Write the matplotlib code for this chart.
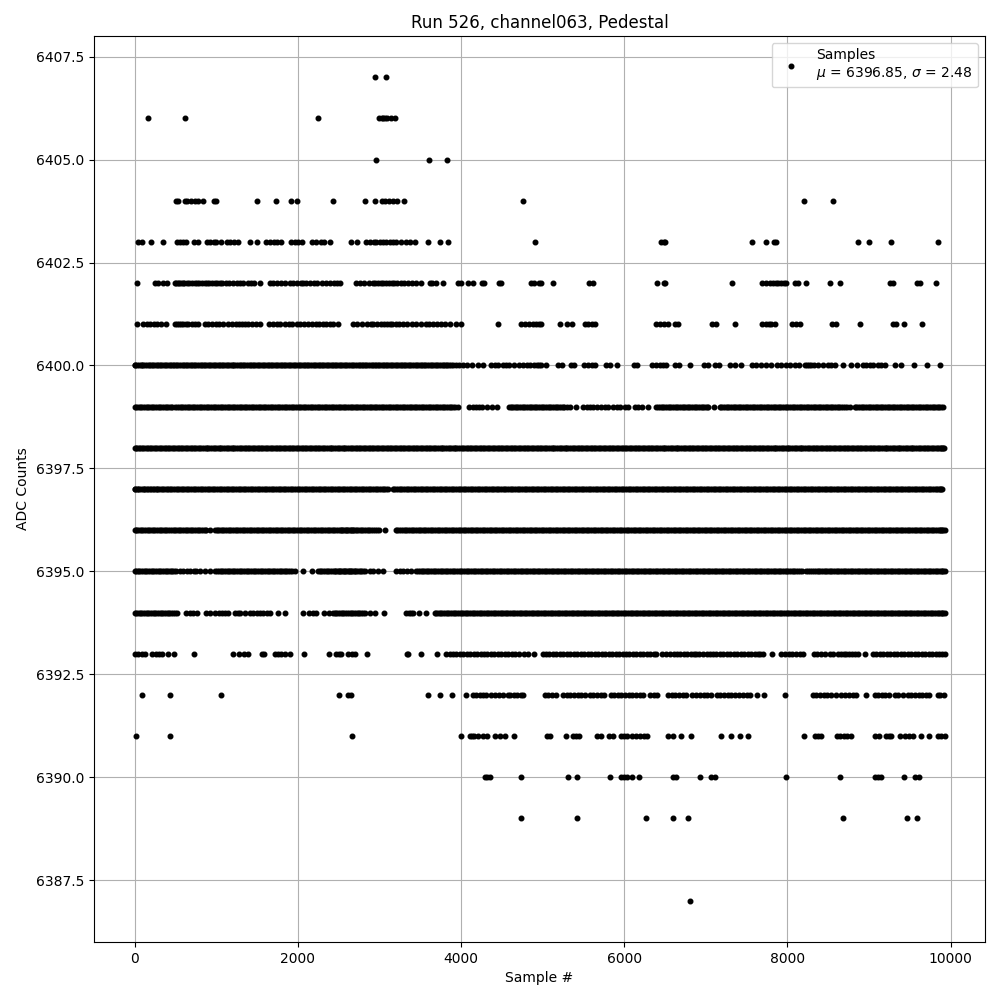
import matplotlib
matplotlib.use("Agg")
import matplotlib.pyplot as plt
from matplotlib.ticker import ScalarFormatter

title = "Run 526, channel063, Pedestal"
x_label = "Sample #"
y_label = "ADC Counts"
legend_label = "Samples\n$\\mu$ = 6396.85, $\\sigma$ = 2.48"

s6407 = [2946, 3080]
s6406 = [167, 620, 2248, 2995, 3030, 3050, 3065, 3090, 3140, 3190]
s6405 = [2958, 3607, 3827]
s6404 = [514, 538, 616, 645, 690, 738, 779, 840, 971, 1004, 1501, 1734, 1918, 1995, 2432, 2823, 2946,
         3027, 3064, 3117, 3166, 3219, 3301, 4757, 8203, 8558]
s6403 = [45, 98, 204, 351, 522, 555, 596, 636, 726, 779, 889, 930, 971, 1004, 1065, 1134, 1175, 1216, 1269,
         1412, 1501, 1607, 1656, 1705, 1746, 1799, 1922, 1962, 2003, 2056, 2175, 2228, 2289, 2317, 2395,
         2652, 2725, 2840, 2880, 2929, 2962, 3003, 3044, 3084, 3125, 3166, 3207, 3268, 3321, 3378, 3431,
         3594, 3741, 3839, 4904, 6457, 6490, 6506, 7567, 7742, 7830, 7856, 8864, 8999, 9268, 9843]
s6402 = [33, 249, 290, 351, 400, 494, 510, 530, 548, 570, 590, 612, 640, 672, 700, 738, 760, 795, 825, 862,
         890, 918, 950, 982, 1010, 1044, 1077, 1126, 1160, 1205, 1250, 1289, 1330, 1391, 1425, 1470, 1534,
         1656, 1695, 1750, 1800, 1840, 1901, 1940, 1985, 2044, 2064, 2105, 2150, 2200, 2240, 2295, 2350,
         2390, 2440, 2480, 2521, 2717, 2760, 2810, 2870, 2921, 2942, 2985, 3020, 3050, 3085, 3115, 3150,
         3180, 3215, 3260, 3300, 3350, 3400, 3450, 3513, 3615, 3650, 3700, 3778, 3962, 4002, 4084, 4145,
         4255, 4280, 4472, 4495, 4860, 4900, 4960, 4980, 5131, 5572, 5620, 6404, 6490, 6506, 7322, 7693,
         7742, 7791, 7824, 7856, 7889, 7922, 7954, 7979, 8089, 8130, 8228, 8521, 8644, 9260, 9292, 9590,
         9627, 9819]
s6401 = [33, 106, 150, 190, 240, 280, 330, 392, 494, 515, 540, 565, 600, 630, 660, 700, 738, 779, 861, 900,
         950, 1000, 1036, 1085, 1146, 1190, 1240, 1285, 1322, 1350, 1395, 1440, 1490, 1534, 1648, 1700,
         1745, 1787, 1840, 1890, 1930, 1985, 2030, 2075, 2125, 2170, 2220, 2265, 2310, 2350, 2390, 2432,
         2493, 2677, 2730, 2790, 2850, 2901, 2921, 2975, 3020, 3055, 3090, 3125, 3160, 3200, 3240, 3290,
         3340, 3395, 3452, 3513, 3570, 3610, 3660, 3710, 3760, 3810, 3860, 3941, 4002, 4459, 4737, 4790,
         4830, 4880, 4925, 4961, 4980, 5216, 5302, 5355, 5519, 5560, 5600, 5641, 6396, 6437, 6486, 6539,
         6620, 6661, 7081, 7122, 7359, 7693, 7734, 7775, 7803, 7852, 8056, 8109, 8158, 8546, 8599, 8889,
         9292, 9333, 9427, 9648]
s6400 = [0, 30, 75, 110, 150, 195, 230, 270, 310, 345, 390, 430, 470, 505, 545, 590, 625, 665, 710, 745, 790,
         830, 865, 910, 950, 985, 1030, 1070, 1105, 1150, 1190, 1225, 1270, 1310, 1345, 1390, 1430, 1470, 1510,
         1550, 1590, 1630, 1670, 1710, 1750, 1790, 1830, 1870, 1910, 1950, 1990, 2030, 2075, 2115, 2150, 2195,
         2235, 2275, 2310, 2355, 2395, 2435, 2470, 2515, 2555, 2595, 2640, 2680, 2725, 2765, 2800, 2840, 2885,
         2925, 2960, 3000, 3040, 3080, 3120, 3160, 3200, 3240, 3280, 3320, 3360, 3400, 3445, 3485, 3525, 3565,
         3605, 3650, 3690, 3730, 3775, 3815, 3855, 3900, 3941, 3980, 4022, 4072, 4133, 4206, 4268, 4370, 4415,
         4460, 4510, 4550, 4594, 4647, 4716, 4760, 4810, 4850, 4890, 4930, 4961, 4980, 5041, 5192, 5233, 5343,
         5388, 5510, 5559, 5600, 5641, 5772, 5825, 5914, 6122, 6163, 6343, 6396, 6437, 6477, 6518, 6620, 6669,
         6808, 6979, 7028, 7110, 7163, 7297, 7359, 7432, 7567, 7612, 7680, 7734, 7803, 7873, 7926, 7987, 8036,
         8089, 8142, 8210, 8240, 8270, 8295, 8330, 8375, 8436, 8497, 8538, 8587, 8685, 8783, 8857, 8926, 8967,
         9008, 9049, 9110, 9151, 9192, 9314, 9395, 9554, 9709, 9868,
         12, 52, 92, 128, 172, 212, 250, 290, 328, 368, 410, 450, 488, 525, 568, 608, 645, 688, 728, 768, 810,
         848, 888, 930, 968, 1008, 1050, 1088, 1128, 1170, 1208, 1248, 1290, 1328, 1368, 1410, 1450, 1490,
         1530, 1570, 1610, 1650, 1690, 1730, 1770, 1810, 1850, 1890, 1930, 1970, 2010, 2052, 2095, 2132, 2172,
         2215, 2255, 2292, 2332, 2375, 2415, 2452, 2492, 2535, 2575, 2618, 2660, 2702, 2745, 2782, 2820, 2862,
         2905, 2942, 2980, 3020, 3060, 3100, 3140, 3180, 3220, 3260, 3300, 3340, 3380, 3422, 3465, 3505, 3545,
         3585, 3628, 3670, 3710, 3752, 3795, 3835, 3878]
s6399 = [0, 40, 85, 125, 170, 210, 255, 295, 340, 380, 425, 465, 500, 545, 585, 630, 670, 715, 755, 800, 840,
         885, 925, 970, 1010, 1055, 1095, 1140, 1180, 1225, 1265, 1310, 1350, 1395, 1435, 1480, 1520, 1565,
         1605, 1650, 1690, 1735, 1775, 1820, 1860, 1905, 1945, 1990, 2030, 2075, 2115, 2160, 2200, 2245, 2285,
         2330, 2370, 2415, 2455, 2500, 2540, 2585, 2625, 2670, 2710, 2755, 2795, 2840, 2880, 2925, 2965, 3010,
         3050, 3095, 3135, 3180, 3220, 3265, 3305, 3350, 3390, 3435, 3475, 3520, 3560, 3605, 3645, 3690, 3730,
         3775, 3815, 3860, 3900, 3960, 4100, 4145, 4190, 4225, 4260, 4322, 4380, 4436, 4587, 4630, 4670, 4715,
         4755, 4800, 4840, 4885, 4925, 4970, 5010, 5055, 5095, 5140, 5180, 5225, 5265, 5335, 5404, 5498, 5540,
         5585, 5620, 5670, 5715, 5760, 5804, 5865, 5910, 5950, 6010, 6049, 6130, 6175, 6224, 6294, 6396, 6440,
         6480, 6525, 6565, 6610, 6650, 6695, 6735, 6780, 6820, 6865, 6905, 6950, 6990, 7028, 7102, 7171, 7215,
         7255, 7300, 7340, 7385, 7425, 7470, 7510, 7555, 7595, 7640, 7680, 7725, 7765, 7810, 7850, 7895, 7935,
         7980, 8020, 8065, 8105, 8150, 8190, 8235, 8275, 8320, 8360, 8405, 8445, 8490, 8530, 8575, 8615, 8660,
         8700, 8762, 8823, 8865, 8910, 8950, 8995, 9035, 9080, 9120, 9165, 9205, 9250, 9290, 9335, 9375, 9420,
         9460, 9505, 9545, 9590, 9630, 9675, 9715, 9760, 9800, 9845, 9880, 9905,
         20, 62, 105, 148, 190, 232, 275, 318, 360, 402, 445, 520, 565, 608, 650, 692, 735, 778, 820, 862, 905,
         948, 990, 1032, 1075, 1118, 1160, 1202, 1245, 1288, 1330, 1372, 1415, 1458, 1500, 1542, 1585, 1628,
         1670, 1712, 1755, 1798, 1840, 1882, 1925, 1968, 2010, 2052, 2095, 2138, 2180, 2222, 2265, 2308, 2350,
         2392, 2435, 2478, 2520, 2562, 2605, 2648, 2690, 2732, 2775, 2818, 2860, 2902, 2945, 2988, 3030, 3072,
         3115, 3158, 3200, 3242, 3285, 3328, 3370, 3412, 3455, 3498, 3540, 3582, 3625, 3668, 3710, 3752, 3795,
         3838, 3880, 3930, 4608, 4650, 4692, 4735, 4778, 4820, 4862, 4905, 4948, 4990, 5032, 5075, 5118, 5160,
         5202, 5245, 5300, 6418, 6460, 6502, 6545, 6588, 6630, 6672, 6715, 6758, 6800, 6842, 6885, 6928, 6970,
         7010, 7192, 7235, 7278, 7320, 7362, 7405, 7448, 7490, 7532, 7575, 7618, 7660, 7702, 7745, 7788, 7830,
         7872, 7915, 7958, 8000, 8042, 8085, 8128, 8170, 8212, 8255, 8298, 8340, 8382, 8425, 8468, 8510, 8552,
         8595, 8638, 8680, 8730, 8845, 8888, 8930, 8972, 9015, 9058, 9100, 9142, 9185, 9228, 9270, 9312, 9355,
         9398, 9440, 9482, 9525, 9568, 9610, 9652, 9695, 9738, 9780, 9822, 9862]
s6398 = [0, 30, 70, 105, 150, 185, 230, 265, 310, 345, 390, 425, 470, 505, 550, 585, 630, 665, 710, 745, 790,
         825, 870, 905, 950, 985, 1030, 1065, 1110, 1145, 1190, 1225, 1270, 1305, 1350, 1385, 1430, 1465, 1510,
         1545, 1590, 1625, 1670, 1705, 1750, 1785, 1830, 1865, 1910, 1945, 1990, 2025, 2070, 2105, 2150, 2185,
         2230, 2265, 2310, 2345, 2390, 2425, 2470, 2505, 2550, 2585, 2630, 2665, 2710, 2745, 2790, 2825, 2870,
         2905, 2950, 2985, 3030, 3065, 3110, 3145, 3190, 3225, 3270, 3305, 3350, 3385, 3430, 3465, 3510, 3545,
         3590, 3625, 3670, 3705, 3750, 3785, 3830, 3865, 3910, 3945, 3990, 4025, 4070, 4105, 4150, 4185, 4230,
         4265, 4310, 4345, 4390, 4425, 4470, 4505, 4550, 4585, 4630, 4665, 4710, 4745, 4790, 4825, 4870, 4905,
         4950, 4985, 5030, 5065, 5110, 5145, 5190, 5225, 5270, 5305, 5350, 5385, 5430, 5465, 5510, 5545, 5590,
         5625, 5670, 5705, 5750, 5785, 5830, 5865, 5910, 5945, 5990, 6025, 6070, 6105, 6150, 6185, 6230, 6265,
         6310, 6345, 6390, 6425, 6470, 6505, 6550, 6585, 6630, 6665, 6710, 6745, 6790, 6825, 6870, 6905, 6950,
         6985, 7030, 7065, 7110, 7145, 7190, 7225, 7270, 7305, 7350, 7385, 7430, 7465, 7510, 7545, 7590, 7625,
         7670, 7705, 7750, 7785, 7830, 7865, 7910, 7945, 7990, 8025, 8070, 8105, 8150, 8185, 8230, 8265, 8310,
         8345, 8390, 8425, 8470, 8505, 8550, 8585, 8630, 8665, 8710, 8745, 8790, 8825, 8870, 8905, 8950, 8985,
         9030, 9065, 9110, 9145, 9190, 9225, 9270, 9305, 9350, 9385, 9430, 9465, 9510, 9545, 9590, 9625, 9670,
         9705, 9750, 9785, 9830, 9865, 9895, 9920,
         14, 50, 88, 128, 168, 208, 248, 288, 328, 368, 408, 448, 488, 528, 568, 608, 648, 688, 728, 768, 808,
         848, 888, 928, 968, 1008, 1048, 1088, 1128, 1168, 1208, 1248, 1288, 1328, 1368, 1408, 1448, 1488,
         1528, 1568, 1608, 1648, 1688, 1728, 1768, 1808, 1848, 1888, 1928, 1968, 2008, 2048, 2088, 2128, 2168,
         2208, 2248, 2288, 2328, 2368, 2408, 2448, 2488, 2528, 2568, 2608, 2648, 2688, 2728, 2768, 2808, 2848,
         2888, 2928, 2968, 3008, 3048, 3088, 3128, 3168, 3208, 3248, 3288, 3328, 3368, 3408, 3448, 3488, 3528,
         3568, 3608, 3648, 3688, 3728, 3768, 3808, 3848, 3888, 3928, 3968, 4008, 4048, 4088, 4128, 4168, 4208,
         4248, 4288, 4328, 4368, 4408, 4448, 4488, 4528, 4568, 4608, 4648, 4688, 4728, 4768, 4808, 4848, 4888,
         4928, 4968, 5008, 5048, 5088, 5128, 5168, 5208, 5248, 5288, 5328, 5368, 5408, 5448, 5488, 5528, 5568,
         5608, 5648, 5688, 5728, 5768, 5808, 5848, 5888, 5928, 5968, 6008, 6048, 6088, 6128, 6168, 6208, 6248,
         6288, 6328, 6368, 6408, 6448, 6488, 6528, 6568, 6608, 6648, 6688, 6728, 6768, 6808, 6848, 6888, 6928,
         6968, 7008, 7048, 7088, 7128, 7168, 7208, 7248, 7288, 7328, 7368, 7408, 7448, 7488, 7528, 7568, 7608,
         7648, 7688, 7728, 7768, 7808, 7848, 7888, 7928, 7968, 8008, 8048, 8088, 8128, 8168, 8208, 8248, 8288,
         8328, 8368, 8408, 8448, 8488, 8528, 8568, 8608, 8648, 8688, 8728, 8768, 8808, 8848, 8888, 8928, 8968,
         9008, 9048, 9088, 9128, 9168, 9208, 9248, 9288, 9328, 9368, 9408, 9448, 9488, 9528, 9568, 9608, 9648,
         9688, 9728, 9768, 9808, 9848, 9880, 9908]
s6397 = [0, 25, 60, 100, 130, 170, 200, 240, 275, 310, 350, 395, 430, 475, 515, 555, 600, 640, 680, 725, 765,
         810, 850, 895, 935, 980, 1020, 1065, 1105, 1150, 1190, 1235, 1275, 1320, 1360, 1405, 1445, 1490, 1530,
         1575, 1615, 1660, 1700, 1745, 1785, 1830, 1870, 1915, 1955, 2000, 2040, 2085, 2125, 2170, 2210, 2255,
         2295, 2340, 2380, 2425, 2465, 2510, 2550, 2595, 2635, 2680, 2720, 2765, 2805, 2850, 2890, 2935, 2975,
         3020, 3060, 3101, 3165, 3205, 3250, 3290, 3335, 3375, 3420, 3460, 3505, 3545, 3590, 3630, 3675, 3715,
         3760, 3800, 3845, 3885, 3930, 3970, 4015, 4055, 4100, 4140, 4185, 4225, 4270, 4310, 4355, 4395, 4440,
         4480, 4525, 4565, 4610, 4650, 4695, 4735, 4780, 4820, 4865, 4905, 4950, 4990, 5035, 5075, 5120, 5160,
         5205, 5245, 5290, 5330, 5375, 5415, 5460, 5500, 5545, 5585, 5630, 5670, 5715, 5755, 5800, 5840, 5885,
         5925, 5970, 6010, 6055, 6095, 6140, 6180, 6225, 6265, 6310, 6350, 6395, 6435, 6480, 6520, 6565, 6605,
         6650, 6690, 6735, 6775, 6820, 6860, 6905, 6945, 6990, 7030, 7075, 7115, 7160, 7200, 7245, 7285, 7330,
         7370, 7415, 7455, 7500, 7540, 7585, 7625, 7670, 7710, 7755, 7795, 7840, 7880, 7925, 7965, 8010, 8050,
         8095, 8135, 8180, 8220, 8265, 8305, 8350, 8390, 8435, 8475, 8520, 8560, 8605, 8645, 8690, 8730, 8775,
         8815, 8860, 8900, 8945, 8985, 9030, 9070, 9115, 9155, 9200, 9240, 9285, 9325, 9370, 9410, 9455, 9495,
         9540, 9580, 9625, 9665, 9710, 9750, 9795, 9835, 9870, 9895,
         12, 42, 80, 115, 150, 185, 222, 258, 292, 332, 372, 412, 452, 495, 535, 578, 620, 660, 702, 745, 788,
         830, 872, 915, 958, 1000, 1042, 1085, 1128, 1170, 1212, 1255, 1298, 1340, 1382, 1425, 1468, 1510,
         1552, 1595, 1638, 1680, 1722, 1765, 1808, 1850, 1892, 1935, 1978, 2020, 2062, 2105, 2148, 2190, 2232,
         2275, 2318, 2360, 2402, 2445, 2488, 2530, 2572, 2615, 2658, 2700, 2742, 2785, 2828, 2870, 2912, 2955,
         2998, 3040, 3082, 3185, 3228, 3270, 3312, 3355, 3398, 3440, 3482, 3525, 3568, 3610, 3652, 3695, 3738,
         3780, 3822, 3865, 3908, 3950, 3992, 4035, 4078, 4120, 4162, 4205, 4248, 4290, 4332, 4375, 4418, 4460,
         4502, 4545, 4588, 4630, 4672, 4715, 4758, 4800, 4842, 4885, 4928, 4970, 5012, 5055, 5098, 5140, 5182,
         5225, 5268, 5310, 5352, 5395, 5438, 5480, 5522, 5565, 5608, 5650, 5692, 5735, 5778, 5820, 5862, 5905,
         5948, 5990, 6032, 6075, 6118, 6160, 6202, 6245, 6288, 6330, 6372, 6415, 6458, 6500, 6542, 6585, 6628,
         6670, 6712, 6755, 6798, 6840, 6882, 6925, 6968, 7010, 7052, 7095, 7138, 7180, 7222, 7265, 7308, 7350,
         7392, 7435, 7478, 7520, 7562, 7605, 7648, 7690, 7732, 7775, 7818, 7860, 7902, 7945, 7988, 8030, 8072,
         8115, 8158, 8200, 8242, 8285, 8328, 8370, 8412, 8455, 8498, 8540, 8582, 8625, 8668, 8710, 8752, 8795,
         8838, 8880, 8922, 8965, 9008, 9050, 9092, 9135, 9178, 9220, 9262, 9305, 9348, 9390, 9432, 9475, 9518,
         9560, 9602, 9645, 9688, 9730, 9772, 9815, 9855, 9882]
s6396 = [0, 35, 75, 115, 160, 200, 245, 285, 330, 370, 415, 455, 500, 540, 585, 625, 670, 710, 755, 795, 840,
         880, 922, 983, 1025, 1070, 1110, 1155, 1195, 1240, 1280, 1325, 1365, 1410, 1450, 1495, 1535, 1580,
         1620, 1665, 1705, 1750, 1790, 1835, 1875, 1920, 1960, 2005, 2045, 2090, 2130, 2175, 2215, 2260, 2300,
         2345, 2385, 2430, 2470, 2515, 2545, 2575, 2605, 2635, 2665, 2695, 2730, 2770, 2815, 2855, 2900, 2950,
         2990, 3064, 3199, 3245, 3290, 3330, 3375, 3415, 3460, 3500, 3545, 3585, 3630, 3670, 3715, 3755, 3800,
         3840, 3885, 3925, 3970, 4010, 4055, 4095, 4140, 4180, 4225, 4265, 4310, 4350, 4395, 4435, 4480, 4520,
         4565, 4605, 4650, 4690, 4735, 4775, 4820, 4860, 4905, 4945, 4990, 5030, 5075, 5115, 5160, 5200, 5245,
         5285, 5330, 5370, 5415, 5455, 5500, 5540, 5585, 5625, 5670, 5710, 5755, 5795, 5840, 5880, 5925, 5965,
         6010, 6050, 6095, 6135, 6180, 6220, 6265, 6305, 6350, 6390, 6435, 6475, 6520, 6560, 6605, 6645, 6690,
         6730, 6775, 6815, 6860, 6900, 6945, 6985, 7030, 7070, 7115, 7155, 7200, 7240, 7285, 7325, 7370, 7410,
         7455, 7495, 7540, 7580, 7625, 7665, 7710, 7750, 7795, 7835, 7880, 7920, 7965, 8005, 8050, 8090, 8135,
         8175, 8220, 8260, 8305, 8345, 8390, 8430, 8475, 8515, 8560, 8600, 8645, 8685, 8730, 8770, 8815, 8855,
         8900, 8940, 8985, 9025, 9070, 9110, 9155, 9195, 9240, 9280, 9325, 9365, 9410, 9450, 9495, 9535, 9580,
         9620, 9665, 9705, 9750, 9790, 9835, 9875, 9900, 9925,
         15, 55, 95, 138, 180, 222, 265, 308, 350, 392, 435, 478, 520, 562, 605, 648, 690, 732, 775, 818, 860,
         1005, 1048, 1090, 1132, 1175, 1218, 1260, 1302, 1345, 1388, 1430, 1472, 1515, 1558, 1600, 1642, 1685,
         1728, 1770, 1812, 1855, 1898, 1940, 1982, 2025, 2068, 2110, 2152, 2195, 2238, 2280, 2322, 2365, 2408,
         2450, 2492, 2530, 2560, 2590, 2620, 2650, 2680, 2712, 2750, 2792, 2835, 2878, 2925, 2970, 3218, 3268,
         3310, 3352, 3395, 3438, 3480, 3522, 3565, 3608, 3650, 3692, 3735, 3778, 3820, 3862, 3905, 3948, 3990,
         4032, 4075, 4118, 4160, 4202, 4245, 4288, 4330, 4372, 4415, 4458, 4500, 4542, 4585, 4628, 4670, 4712,
         4755, 4798, 4840, 4882, 4925, 4968, 5010, 5052, 5095, 5138, 5180, 5222, 5265, 5308, 5350, 5392, 5435,
         5478, 5520, 5562, 5605, 5648, 5690, 5732, 5775, 5818, 5860, 5902, 5945, 5988, 6030, 6072, 6115, 6158,
         6200, 6242, 6285, 6328, 6370, 6412, 6455, 6498, 6540, 6582, 6625, 6668, 6710, 6752, 6795, 6838, 6880,
         6922, 6965, 7008, 7050, 7092, 7135, 7178, 7220, 7262, 7305, 7348, 7390, 7432, 7475, 7518, 7560, 7602,
         7645, 7688, 7730, 7772, 7815, 7858, 7900, 7942, 7985, 8028, 8070, 8112, 8155, 8198, 8240, 8282, 8325,
         8368, 8410, 8452, 8495, 8538, 8580, 8622, 8665, 8708, 8750, 8792, 8835, 8878, 8920, 8962, 9005, 9048,
         9090, 9132, 9175, 9218, 9260, 9302, 9345, 9388, 9430, 9472, 9515, 9558, 9600, 9642, 9685, 9728, 9770,
         9812, 9855, 9888, 9912]
s6395 = [0, 40, 80, 125, 165, 210, 250, 295, 335, 380, 420, 465, 514, 563, 600, 645, 685, 730, 759, 800, 861,
         922, 991, 1035, 1075, 1120, 1160, 1205, 1245, 1290, 1330, 1375, 1415, 1460, 1500, 1545, 1585, 1630,
         1670, 1715, 1755, 1800, 1840, 1885, 1925, 1962, 2064, 2179, 2248, 2290, 2335, 2375, 2420, 2460, 2490,
         2520, 2550, 2580, 2610, 2640, 2670, 2700, 2740, 2780, 2819, 2880, 2925, 2982, 3044, 3207, 3250, 3295,
         3340, 3390, 3452, 3495, 3540, 3580, 3625, 3665, 3710, 3750, 3795, 3835, 3880, 3920, 3965, 4005, 4050,
         4090, 4135, 4175, 4220, 4260, 4305, 4345, 4390, 4430, 4475, 4515, 4560, 4600, 4645, 4685, 4730, 4770,
         4815, 4855, 4900, 4940, 4985, 5025, 5070, 5110, 5155, 5195, 5240, 5280, 5325, 5365, 5410, 5450, 5495,
         5535, 5580, 5620, 5665, 5705, 5750, 5790, 5835, 5875, 5920, 5960, 6005, 6045, 6090, 6130, 6175, 6215,
         6260, 6300, 6345, 6385, 6430, 6470, 6515, 6555, 6600, 6640, 6685, 6725, 6770, 6810, 6855, 6895, 6940,
         6980, 7025, 7065, 7110, 7150, 7195, 7235, 7280, 7320, 7365, 7405, 7450, 7490, 7535, 7575, 7620, 7660,
         7705, 7745, 7790, 7830, 7875, 7915, 7960, 8000, 8045, 8085, 8130, 8175, 8230, 8280, 8325, 8370, 8415,
         8455, 8500, 8540, 8585, 8625, 8670, 8710, 8755, 8795, 8840, 8880, 8925, 8965, 9010, 9050, 9095, 9135,
         9180, 9220, 9265, 9305, 9350, 9390, 9435, 9475, 9520, 9560, 9605, 9645, 9690, 9730, 9775, 9815, 9860,
         9900, 9925,
         18, 60, 102, 145, 188, 230, 272, 315, 358, 400, 442, 490, 1012, 1055, 1098, 1140, 1182, 1225, 1268,
         1310, 1352, 1395, 1438, 1480, 1522, 1565, 1608, 1650, 1692, 1735, 1778, 1820, 1862, 1905, 2268, 2312,
         2355, 2398, 2440, 2475, 2505, 2535, 2565, 2595, 2625, 2655, 2685, 2720, 2760, 2800, 3472, 3518, 3560,
         3602, 3645, 3688, 3730, 3772, 3815, 3858, 3900, 3942, 3985, 4028, 4070, 4112, 4155, 4198, 4240, 4282,
         4325, 4368, 4410, 4452, 4495, 4538, 4580, 4622, 4665, 4708, 4750, 4792, 4835, 4878, 4920, 4962, 5005,
         5048, 5090, 5132, 5175, 5218, 5260, 5302, 5345, 5388, 5430, 5472, 5515, 5558, 5600, 5642, 5685, 5728,
         5770, 5812, 5855, 5898, 5940, 5982, 6025, 6068, 6110, 6152, 6195, 6238, 6280, 6322, 6365, 6408, 6450,
         6492, 6535, 6578, 6620, 6662, 6705, 6748, 6790, 6832, 6875, 6918, 6960, 7002, 7045, 7088, 7130, 7172,
         7215, 7258, 7300, 7342, 7385, 7428, 7470, 7512, 7555, 7598, 7640, 7682, 7725, 7768, 7810, 7852, 7895,
         7938, 7980, 8022, 8065, 8108, 8150, 8250, 8302, 8348, 8392, 8435, 8478, 8520, 8562, 8605, 8648, 8690,
         8732, 8775, 8818, 8860, 8902, 8945, 8988, 9030, 9072, 9115, 9158, 9200, 9242, 9285, 9328, 9370, 9412,
         9455, 9498, 9540, 9582, 9625, 9668, 9710, 9752, 9795, 9838, 9880, 9912]
s6394 = [0, 45, 85, 130, 170, 215, 255, 300, 340, 385, 425, 470, 522, 636, 680, 720, 767, 881, 930, 983, 1030,
         1075, 1110, 1146, 1228, 1265, 1297, 1359, 1412, 1455, 1495, 1540, 1580, 1625, 1665, 1758, 1848, 2064,
         2138, 2185, 2228, 2317, 2383, 2432, 2475, 2520, 2560, 2605, 2650, 2690, 2735, 2775, 2819, 2880, 2942,
         3052, 3321, 3360, 3390, 3411, 3492, 3574, 3676, 3720, 3760, 3805, 3845, 3890, 3930, 3975, 4015, 4060,
         4100, 4145, 4185, 4230, 4270, 4315, 4355, 4400, 4440, 4485, 4525, 4570, 4610, 4655, 4695, 4740, 4780,
         4825, 4865, 4910, 4950, 4995, 5035, 5080, 5120, 5165, 5205, 5250, 5290, 5335, 5375, 5420, 5460, 5505,
         5545, 5590, 5630, 5675, 5715, 5760, 5800, 5845, 5885, 5930, 5970, 6015, 6055, 6100, 6140, 6185, 6225,
         6270, 6310, 6355, 6395, 6440, 6480, 6525, 6565, 6610, 6650, 6695, 6735, 6780, 6820, 6865, 6905, 6950,
         6990, 7035, 7075, 7120, 7160, 7205, 7245, 7290, 7330, 7375, 7415, 7460, 7500, 7545, 7585, 7630, 7670,
         7715, 7755, 7800, 7840, 7885, 7925, 7970, 8010, 8055, 8095, 8140, 8180, 8225, 8265, 8310, 8350, 8395,
         8435, 8480, 8520, 8565, 8605, 8650, 8690, 8735, 8775, 8820, 8860, 8905, 8945, 8990, 9030, 9075, 9115,
         9160, 9200, 9245, 9285, 9330, 9370, 9415, 9455, 9500, 9540, 9585, 9625, 9670, 9710, 9755, 9795, 9840,
         9880, 9905, 9925,
         22, 65, 108, 150, 192, 235, 278, 320, 362, 405, 448, 495, 2455, 2498, 2540, 2582, 2628, 2670, 2712,
         2755, 2798, 3700, 3742, 3782, 3825, 3868, 3910, 3952, 3995, 4038, 4080, 4122, 4165, 4208, 4250, 4292,
         4335, 4378, 4420, 4462, 4505, 4548, 4590, 4632, 4675, 4718, 4760, 4802, 4845, 4888, 4930, 4972, 5015,
         5058, 5100, 5142, 5185, 5228, 5270, 5312, 5355, 5398, 5440, 5482, 5525, 5568, 5610, 5652, 5695, 5738,
         5780, 5822, 5865, 5908, 5950, 5992, 6035, 6078, 6120, 6162, 6205, 6248, 6290, 6332, 6375, 6418, 6460,
         6502, 6545, 6588, 6630, 6672, 6715, 6758, 6800, 6842, 6885, 6928, 6970, 7012, 7055, 7098, 7140, 7182,
         7225, 7268, 7310, 7352, 7395, 7438, 7480, 7522, 7565, 7608, 7650, 7692, 7735, 7778, 7820, 7862, 7905,
         7948, 7990, 8032, 8075, 8118, 8160, 8202, 8245, 8288, 8330, 8372, 8415, 8458, 8500, 8542, 8585, 8628,
         8670, 8712, 8755, 8798, 8840, 8882, 8925, 8968, 9010, 9052, 9095, 9138, 9180, 9222, 9265, 9308, 9350,
         9392, 9435, 9478, 9520, 9562, 9605, 9648, 9690, 9732, 9775, 9818, 9860, 9892]
s6393 = [0, 45, 86, 127, 220, 260, 300, 343, 412, 486, 730, 1208, 1281, 1338, 1395, 1565, 1585, 1718, 1760,
         1799, 1848, 1909, 2077, 2383, 2472, 2500, 2534, 2615, 2660, 2697, 2848, 3335, 3355, 3509, 3705, 3811,
         3860, 3900, 3945, 3985, 4030, 4070, 4115, 4155, 4200, 4240, 4285, 4325, 4370, 4410, 4455, 4495, 4540,
         4580, 4625, 4665, 4710, 4778, 4818, 4892, 5000, 5045, 5085, 5130, 5170, 5215, 5255, 5300, 5340, 5385,
         5425, 5470, 5510, 5555, 5595, 5640, 5680, 5725, 5765, 5810, 5850, 5895, 5935, 5980, 6020, 6065, 6105,
         6150, 6190, 6235, 6275, 6320, 6360, 6396, 6469, 6518, 6560, 6605, 6645, 6690, 6730, 6775, 6815, 6860,
         6885, 6918, 6967, 7010, 7050, 7089, 7130, 7175, 7215, 7260, 7300, 7345, 7385, 7430, 7470, 7515, 7555,
         7600, 7640, 7670, 7701, 7812, 7926, 7970, 8015, 8060, 8105, 8150, 8191, 8322, 8365, 8410, 8455, 8517,
         8558, 8619, 8660, 8690, 8720, 8755, 8790, 8825, 8864, 8954, 9048, 9090, 9135, 9175, 9220, 9260, 9305,
         9345, 9390, 9430, 9475, 9515, 9560, 9600, 9645, 9685, 9730, 9770, 9815, 9855, 9900, 9925]
s6392 = [98, 437, 1065, 2505, 2615, 2656, 3594, 3741, 3888, 4060, 4145, 4185, 4230, 4268, 4308, 4370, 4415,
         4472, 4512, 4574, 4602, 4650, 4690, 4730, 4765, 5029, 5070, 5120, 5164, 5253, 5295, 5340, 5385, 5430,
         5475, 5520, 5580, 5620, 5665, 5710, 5751, 5833, 5880, 5920, 5965, 6010, 6055, 6100, 6145, 6190, 6232,
         6314, 6360, 6404, 6539, 6580, 6625, 6670, 6720, 6763, 6836, 6885, 6930, 6975, 7020, 7069, 7138, 7180,
         7225, 7270, 7315, 7360, 7405, 7450, 7500, 7546, 7628, 7710, 7971, 8313, 8355, 8400, 8445, 8490, 8535,
         8599, 8660, 8705, 8750, 8800, 8844, 8966, 9068, 9110, 9155, 9200, 9244, 9313, 9360, 9415, 9476, 9520,
         9565, 9610, 9655, 9700, 9741, 9843, 9875, 9913]
s6391 = [20, 437, 2664, 3998, 4113, 4140, 4166, 4206, 4268, 4321, 4423, 4480, 4541, 4655, 5049, 5090, 5282,
         5376, 5408, 5449, 5661, 5722, 5812, 5857, 5959, 6000, 6040, 6102, 6151, 6192, 6245, 6282, 6539, 6600,
         6698, 6820, 7187, 7314, 7416, 7514, 8203, 8334, 8370, 8407, 8611, 8650, 8690, 8735, 8774, 9068, 9121,
         9203, 9240, 9272, 9374, 9435, 9488, 9537, 9639, 9733, 9843, 9884, 9925]
s6390 = [4299, 4325, 4350, 4740, 5315, 5425, 5829, 5959, 5996, 6037, 6098, 6184, 6600, 6632, 6930, 7069, 7110,
         7983, 8644, 9068, 9109, 9142, 9427, 9558, 9607]
s6389 = [4735, 5417, 6269, 6600, 6783, 8681, 9464, 9586]
s6387 = [6811]

levels = [6407, 6406, 6405, 6404, 6403, 6402, 6401, 6400, 6399, 6398, 6397, 6396, 6395, 6394, 6393, 6392, 6391,
          6390, 6389, 6387]
samples = [s6407, s6406, s6405, s6404, s6403, s6402, s6401, s6400, s6399, s6398, s6397, s6396, s6395, s6394,
           s6393, s6392, s6391, s6390, s6389, s6387]

xs, ys = [], []
for level, group in zip(levels, samples):
    xs.extend(group)
    ys.extend([level] * len(group))

fig, ax = plt.subplots(figsize=(10, 10), dpi=100)
ax.plot(xs, ys, "k.", ms=6.6, label=legend_label)
ax.grid(True)
ax.set_title(title)
ax.set_xlabel(x_label)
ax.set_ylabel(y_label)
fmt = ScalarFormatter(useOffset=False)
ax.yaxis.set_major_formatter(fmt)
ax.legend(loc="upper right")
fig.subplots_adjust(left=0.094, right=0.985, top=0.964, bottom=0.058)
fig.savefig("out.png", dpi=100)
